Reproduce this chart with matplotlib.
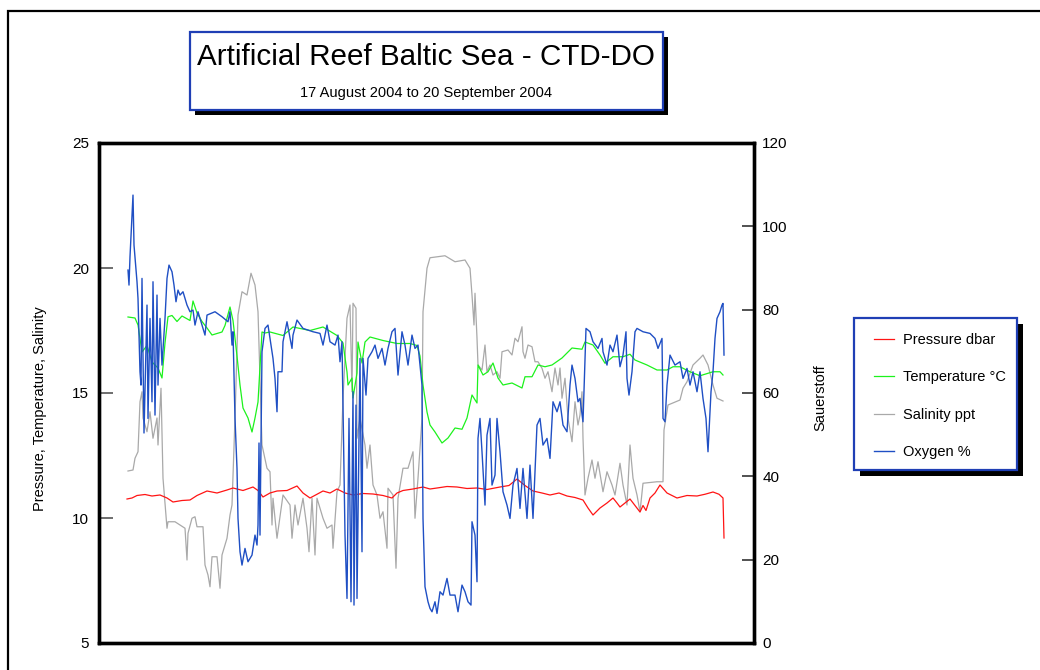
import numpy as np
import matplotlib
matplotlib.use("Agg")
import matplotlib.pyplot as plt
from matplotlib.patches import Rectangle

plt.rcParams['font.family'] = ['Liberation Sans', 'DejaVu Sans']

TITLE = "Artificial Reef Baltic Sea - CTD-DO"
SUBTITLE = "17 August 2004 to 20 September 2004"
LEFT_LABEL = "Pressure, Temperature, Salinity"
RIGHT_LABEL = "Sauerstoff"
SERIES_NAMES = ["Pressure dbar", "Temperature °C", "Salinity ppt", "Oxygen %"]
LEFT_TICKS = [5, 10, 15, 20, 25]
RIGHT_TICKS = [0, 20, 40, 60, 80, 100, 120]

# logger record number, pressure (dbar)
pressure_rec = [0, 5, 10, 18, 25, 33, 40, 46, 55, 63, 70, 80, 90, 100, 106, 116, 126, 131, 136,
                143, 150, 160, 170, 176, 183, 190, 196, 203, 210, 218, 226, 236, 246, 256, 265,
                270, 276, 286, 296, 303, 310, 320, 330, 340, 350, 360, 373, 382, 390, 398, 406,
                415, 423, 432, 440, 448, 456, 461, 466, 473, 480, 486, 490, 493, 498, 503, 508,
                513, 516, 519, 523, 528, 533, 540, 550, 560, 570, 578, 586, 592, 596, 597]
pressure = [10.76, 10.8, 10.9, 10.94, 10.88, 10.92, 10.8, 10.64, 10.7, 10.72, 10.9, 11.08, 11.0,
            11.12, 11.2, 11.1, 11.24, 11.1, 10.84, 11.0, 11.08, 11.1, 11.28, 11.0, 10.8, 10.95,
            11.08, 11.0, 11.16, 11.0, 10.92, 10.98, 10.96, 10.9, 10.8, 11.0, 11.1, 11.16, 11.24,
            11.16, 11.2, 11.26, 11.24, 11.18, 11.2, 11.14, 11.24, 11.3, 11.56, 11.3, 11.08, 11.0,
            10.92, 11.0, 10.88, 10.82, 10.72, 10.4, 10.12, 10.4, 10.6, 10.8, 10.6, 10.44, 10.6,
            10.76, 10.5, 10.24, 10.5, 10.3, 10.8, 11.0, 11.32, 11.0, 10.8, 10.9, 10.88, 10.95,
            11.04, 10.95, 10.8, 9.2]

# temperature (°C)
temp_rec = [1, 8, 11, 15, 20, 25, 31, 35, 38, 41, 45, 50, 55, 63, 66, 70, 75, 80, 85, 95, 98,
            103, 106, 110, 113, 116, 121, 125, 128, 131, 135, 138, 143, 156, 166, 183, 196, 210,
            216, 220, 221, 225, 226, 230, 231, 235, 238, 243, 256, 270, 283, 290, 293, 296, 300,
            303, 308, 315, 321, 328, 335, 340, 345, 350, 351, 356, 361, 366, 371, 376, 385, 395,
            398, 405, 411, 418, 425, 435, 445, 455, 458, 466, 473, 478, 486, 496, 503, 508, 520,
            530, 540, 546, 553, 563, 573, 586, 593, 596]
temperature = [18.04, 18.0, 17.72, 16.64, 16.9, 16.24, 16.0, 15.6, 17.0, 18.05, 18.1, 17.86,
               18.08, 17.9, 18.68, 18.2, 17.86, 17.6, 17.32, 17.44, 17.7, 18.44, 17.9, 16.48,
               15.32, 14.4, 14.0, 13.44, 14.0, 14.64, 17.44, 17.4, 17.44, 17.3, 17.64, 17.5,
               17.64, 17.3, 17.0, 15.84, 15.32, 15.6, 14.8, 15.8, 17.04, 16.2, 17.04, 17.24,
               17.1, 16.98, 16.98, 16.9, 16.48, 15.32, 14.24, 13.72, 13.44, 13.0, 13.2, 13.6,
               13.55, 14.0, 14.92, 14.6, 16.12, 15.72, 15.85, 16.2, 15.6, 15.32, 15.4, 15.2,
               15.65, 15.65, 16.12, 16.05, 16.12, 16.4, 16.8, 16.75, 17.04, 16.92, 16.52, 16.19,
               16.45, 16.45, 16.55, 16.32, 16.12, 15.92, 15.92, 16.05, 16.05, 15.85, 15.69,
               15.85, 15.85, 15.72]

# salinity (ppt)
sal_rec = [1, 6, 8, 11, 13, 15, 16, 20, 23, 26, 30, 31, 34, 36, 40, 41, 48, 58, 60, 61, 65, 68,
           70, 76, 78, 81, 83, 85, 90, 93, 95, 100, 103, 105, 108, 111, 115, 120, 124, 128, 131,
           133, 135, 140, 143, 145, 146, 150, 156, 163, 165, 168, 171, 176, 180, 182, 185, 188,
           190, 196, 200, 205, 206, 210, 213, 216, 220, 223, 225, 226, 229, 230, 233, 238, 240,
           243, 246, 250, 253, 256, 260, 261, 266, 269, 271, 276, 281, 286, 288, 291, 295, 296,
           300, 303, 318, 328, 338, 343, 345, 347, 348, 350, 351, 355, 358, 360, 363, 366, 370,
           373, 375, 381, 385, 388, 391, 395, 396, 398, 401, 405, 408, 411, 415, 418, 421, 425,
           428, 431, 433, 435, 438, 441, 445, 448, 451, 453, 455, 456, 458, 461, 465, 468, 471,
           476, 480, 485, 488, 493, 496, 500, 503, 506, 510, 513, 516, 530, 536, 537, 541, 553,
           556, 560, 566, 573, 576, 581, 586, 590, 596]
salinity = [11.88, 11.92, 12.39, 12.65, 14.65, 15.05, 14.0, 13.45, 14.25, 13.19, 14.0, 12.92,
            15.19, 11.59, 9.59, 9.85, 9.85, 9.59, 8.32, 9.39, 9.99, 10.05, 9.65, 9.65, 8.12,
            7.72, 7.25, 8.45, 8.45, 7.19, 8.52, 9.19, 10.12, 10.52, 14.0, 18.12, 19.05, 18.92,
            19.79, 19.32, 18.25, 15.59, 12.92, 11.99, 11.85, 9.72, 10.79, 9.19, 10.92, 10.52,
            9.19, 10.52, 9.72, 10.79, 9.59, 8.65, 10.79, 8.52, 10.79, 9.99, 9.59, 9.72, 8.79,
            11.05, 11.32, 14.79, 17.99, 18.52, 15.05, 18.59, 18.39, 13.19, 13.99, 12.92, 11.99,
            12.92, 11.32, 10.92, 9.99, 10.25, 8.79, 11.19, 10.92, 7.99, 10.79, 11.99, 11.99,
            12.65, 9.99, 11.59, 13.99, 18.25, 19.99, 20.41, 20.49, 20.25, 20.32, 19.99, 18.92,
            17.72, 18.99, 17.19, 16.12, 15.92, 16.92, 15.85, 16.12, 15.72, 15.85, 15.59, 16.65,
            16.72, 16.52, 17.19, 17.05, 17.65, 16.65, 16.39, 16.92, 16.85, 16.25, 16.25, 15.99,
            15.59, 15.85, 15.05, 16.0, 15.32, 16.0, 14.79, 15.59, 13.99, 13.05, 14.65, 13.72,
            14.12, 15.05, 13.19, 10.92, 11.59, 12.32, 11.59, 12.25, 11.05, 11.85, 11.32, 10.92,
            12.19, 11.32, 10.52, 12.92, 11.59, 10.92, 10.25, 11.39, 11.45, 11.45, 13.52, 14.52,
            14.72, 15.19, 15.45, 16.12, 16.39, 16.52, 16.12, 15.32, 14.79, 14.68]

# oxygen saturation (%)
oxy_rec = [1, 2, 3, 5, 6, 7, 10, 11, 13, 14, 15, 17, 20, 21, 23, 25, 26, 28, 30, 31, 33, 35,
           38, 40, 42, 45, 47, 49, 51, 53, 56, 60, 63, 66, 68, 71, 78, 80, 88, 95, 101, 103, 105,
           106, 108, 110, 111, 113, 115, 118, 121, 125, 128, 130, 131, 132, 133, 135, 138, 141,
           143, 146, 148, 150, 151, 155, 156, 160, 165, 166, 170, 176, 186, 193, 196, 200, 203,
           208, 211, 213, 215, 218, 220, 222, 224, 226, 227, 229, 230, 233, 235, 236, 239, 241,
           245, 248, 251, 255, 258, 261, 265, 268, 271, 275, 278, 281, 285, 288, 291, 293, 295,
           296, 298, 301, 303, 305, 308, 310, 313, 316, 320, 323, 328, 331, 335, 338, 341, 344,
           345, 348, 350, 351, 353, 355, 358, 360, 363, 365, 368, 370, 373, 376, 380, 383, 386,
           390, 393, 396, 400, 403, 406, 410, 413, 416, 420, 423, 426, 430, 433, 436, 440, 443,
           445, 448, 451, 453, 456, 459, 463, 466, 471, 475, 476, 480, 483, 486, 490, 493, 496,
           499, 500, 502, 505, 508, 510, 516, 523, 528, 531, 535, 536, 538, 540, 543, 548, 553,
           556, 560, 563, 566, 570, 573, 576, 579, 581, 584, 586, 588, 590, 593, 595, 596, 597]
oxygen = [89.5, 85.9, 92.7, 102.7, 107.5, 95.5, 86.7, 82.7, 65.1, 61.9, 87.5, 50.4, 81.1, 53.9,
          77.9, 57.9, 86.7, 54.7, 83.5, 61.9, 77.9, 66.7, 77.9, 87.5, 90.7, 89.1, 85.9, 81.9,
          84.7, 83.5, 84.3, 81.1, 79.5, 79.9, 76.3, 79.5, 73.9, 78.7, 79.5, 78.3, 77.1, 79.5,
          71.5, 74.7, 53.9, 41.9, 29.9, 21.9, 18.7, 22.7, 19.5, 21.1, 25.9, 23.5, 28.3, 48.0,
          25.9, 69.9, 75.5, 76.3, 73.1, 68.3, 63.5, 55.5, 65.1, 65.1, 72.3, 77.1, 70.7, 73.9,
          77.5, 75.5, 74.7, 74.3, 71.5, 76.3, 72.3, 71.5, 73.9, 67.5, 72.3, 25.9, 10.7, 53.9,
          9.9, 60.3, 9.1, 57.1, 10.7, 68.3, 21.9, 68.3, 59.5, 68.3, 69.9, 71.5, 68.3, 70.7,
          66.7, 70.7, 74.7, 75.5, 64.3, 74.7, 71.5, 66.7, 73.9, 70.7, 71.5, 66.7, 61.9, 29.9,
          13.5, 9.9, 8.3, 7.5, 9.9, 7.1, 12.3, 11.5, 15.5, 11.5, 11.5, 7.5, 13.9, 12.3, 9.9,
          9.1, 29.1, 25.9, 14.7, 49.1, 53.9, 45.9, 33.1, 49.9, 53.9, 37.9, 40.3, 53.9, 45.9,
          36.3, 33.1, 29.9, 37.9, 41.9, 32.3, 41.9, 29.9, 42.7, 29.9, 52.3, 53.9, 47.5, 49.1,
          44.3, 57.9, 55.5, 57.9, 52.3, 50.7, 61.9, 66.7, 63.5, 57.9, 58.7, 53.1, 75.5, 74.7,
          72.3, 70.7, 73.1, 69.9, 66.7, 71.5, 69.9, 73.9, 66.3, 69.1, 74.7, 63.5, 59.5, 65.1,
          74.7, 75.5, 74.7, 74.3, 73.1, 70.7, 73.1, 53.9, 53.1, 61.9, 69.1, 66.7, 67.5, 63.5,
          65.9, 61.9, 65.1, 60.3, 65.1, 58.7, 53.9, 45.9, 60.3, 65.1, 73.1, 77.9, 79.5, 81.1,
          81.5, 69.1]

W, H = 1040, 670


def px_box(x0, y0, x1, y1):
    # pixel box (top-left origin) -> figure fraction (left, bottom, width, height)
    return x0 / W, 1 - y1 / H, (x1 - x0) / W, (y1 - y0) / H


def shadow_box(fig, x0, y0, x1, y1, off=5):
    l, b, w, h = px_box(x0 + off, y0 + off, x1 + off, y1 + off)
    fig.add_artist(Rectangle((l, b), w, h, transform=fig.transFigure,
                             facecolor='black', edgecolor='black', lw=0, zorder=5))
    l, b, w, h = px_box(x0, y0, x1, y1)
    fig.add_artist(Rectangle((l, b), w, h, transform=fig.transFigure,
                             facecolor='white', edgecolor='#1f3fb5', lw=1.6, zorder=6))


fig = plt.figure(figsize=(W / 100, H / 100), dpi=100)

# outer frame
l, b, w, h = px_box(8, 11, 1050, 680)
fig.add_artist(Rectangle((l, b), w, h, transform=fig.transFigure,
                         facecolor='none', edgecolor='black', lw=1.6, zorder=1))

ax = fig.add_axes(px_box(99, 143, 754, 643))
ax2 = ax.twinx()

l_sal, = ax.plot(sal_rec, salinity, color='#a9a9a9', lw=0.9)
l_temp, = ax.plot(temp_rec, temperature, color='#1cf21c', lw=0.9)
l_pres, = ax.plot(pressure_rec, pressure, color='#ff1414', lw=0.9)
l_oxy, = ax2.plot(oxy_rec, oxygen, color='#1f4fc4', lw=1.0)

ax.set_xlim(-28, 627)
ax.set_ylim(5, 25)
ax2.set_ylim(0, 120)
ax.set_xticks([])
ax.set_yticks(LEFT_TICKS)
ax2.set_yticks(RIGHT_TICKS)

ax.tick_params(axis='y', direction='in', length=10, width=1.2, color='#555555',
               labelsize=11, pad=7)
ax2.tick_params(axis='y', direction='in', length=9, width=1.2, color='#333333',
                labelsize=11, pad=6)

for a in (ax, ax2):
    for s in a.spines.values():
        s.set_linewidth(2.4)
        s.set_color('black')

ax.set_ylabel(LEFT_LABEL, fontsize=10.5)
ax.yaxis.set_label_coords(-0.079, 0.468)
ax2.set_ylabel(RIGHT_LABEL, fontsize=10.5)
ax2.yaxis.set_label_coords(1.09, 0.49)

# title box
shadow_box(fig, 190, 32, 663, 110, off=5)
fig.text(426 / W, 1 - 57 / H, TITLE, fontsize=21.3, ha='center', va='center', zorder=7)
fig.text(426 / W, 1 - 93 / H, SUBTITLE, fontsize=10.5, ha='center', va='center', zorder=7)

# legend box
shadow_box(fig, 854, 318, 1017, 470, off=6)
leg = fig.legend([l_pres, l_temp, l_sal, l_oxy], SERIES_NAMES, loc='upper left',
                 bbox_to_anchor=(858 / W, 1 - 317 / H), frameon=False,
                 fontsize=10.5, handlelength=1.35, handletextpad=0.65,
                 labelspacing=1.6, borderpad=0.6)
leg.set_zorder(8)

fig.savefig("out.png", dpi=100)
